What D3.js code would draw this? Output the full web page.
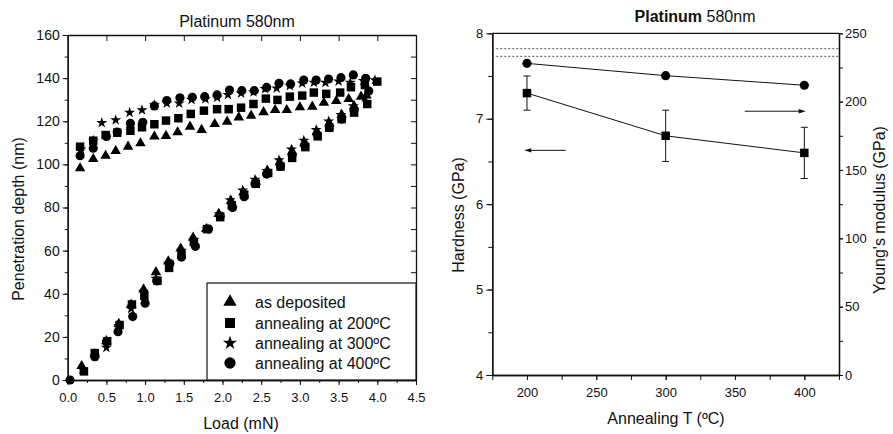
<!DOCTYPE html>
<meta charset="utf-8">
<style>
 body { margin: 0; background: #fff; }
 svg { display: block; background: #fff; }
 text { font-family: "Liberation Sans", Arial, sans-serif; fill: #111; }
 .tick text { font-size: 13px; }
 .domain, .tick line { stroke: #111; }
</style>
<svg width="893" height="434"></svg>
<script src="https://d3js.org/d3.v7.min.js"></script>
<script>

 // ---- left chart: load vs penetration depth ----
 var asDepLoad = [[0.18,6.5],[0.35,12],[0.5,18],[0.66,26],[0.82,35],[0.98,42],[1.14,50],[1.3,55],[1.46,61],[1.62,66],[1.79,70],[1.95,77],[2.11,83],[2.27,87],[2.43,92],[2.58,97],[2.74,101],[2.9,106],[3.06,110],[3.22,115],[3.38,119],[3.54,123],[3.7,127],[3.86,132]];
 var asDepUnload = [[0.16,98.2],[0.33,102.5],[0.49,104],[0.62,106.2],[0.78,108.2],[0.94,109.8],[1.12,112.9],[1.27,113.2],[1.42,114.9],[1.58,117.5],[1.73,116],[1.9,118.7],[2.06,119.8],[2.21,121.8],[2.37,122.6],[2.53,124.2],[2.68,125.2],[2.83,125.2],[3.0,126.5],[3.16,126.8],[3.31,128.6],[3.47,129.4],[3.63,130.3],[3.79,131.4]];

 var ann200Load = [[0.21,4],[0.35,12.5],[0.51,18],[0.67,25.5],[0.83,35],[0.99,39],[1.16,46],[1.31,52],[1.47,58],[1.63,64],[1.8,70],[1.97,75.5],[2.12,81],[2.28,86],[2.43,91],[2.59,96],[2.75,99],[2.9,103],[3.07,108],[3.23,113],[3.38,117],[3.54,121],[3.7,124],[3.87,128]];
 var ann200Unload = [[0.16,108.2],[0.33,111],[0.49,113.6],[0.64,114.7],[0.81,115.6],[0.96,117.2],[1.12,118.6],[1.27,120.3],[1.43,121.4],[1.59,123.4],[1.76,124.9],[1.93,125.6],[2.08,125.6],[2.24,126.3],[2.4,128],[2.56,130.5],[2.71,129.9],[2.87,131.4],[3.03,131.9],[3.18,133.3],[3.34,132.7],[3.52,133.3],[3.66,135.8],[3.84,136.8],[4.0,138.4]];

 var ann300Load = [[0.19,5],[0.35,11],[0.5,15],[0.66,25],[0.82,33],[0.98,41],[1.14,47],[1.3,54],[1.47,60],[1.63,65],[1.8,70],[1.96,77],[2.1,83.5],[2.26,88],[2.42,93],[2.57,97],[2.73,102],[2.89,107],[3.05,111],[3.21,116],[3.37,120],[3.53,123],[3.69,127],[3.84,131]];
 var ann300Unload = [[0.17,107],[0.33,111],[0.44,119.3],[0.62,120.6],[0.8,124],[0.96,125.2],[1.12,127.5],[1.28,128.3],[1.44,128.3],[1.6,130],[1.78,130.3],[1.93,131],[2.07,132.3],[2.24,133],[2.4,133.5],[2.55,135],[2.7,135.3],[2.87,136.5],[3.03,137.6],[3.18,138],[3.33,137.9],[3.5,138.5],[3.65,137.9],[3.82,138.8],[3.97,139.1]];

 var ann400Load = [[0.03,0],[0.35,10.8],[0.5,17.8],[0.65,22.4],[0.84,29.4],[1.0,35.6],[1.15,46],[1.32,54],[1.47,57],[1.65,62],[1.82,70],[1.97,76],[2.13,80],[2.28,85],[2.42,91],[2.57,95.5],[2.75,99],[2.9,104.4],[3.06,109],[3.22,114],[3.38,117],[3.54,121],[3.7,125],[3.89,134]];
 var ann400Unload = [[0.16,104],[0.33,107.5],[0.5,112.9],[0.64,115],[0.81,119],[0.97,119.5],[1.12,127.1],[1.28,129.6],[1.45,130.9],[1.61,131.1],[1.77,131.4],[1.93,132.2],[2.09,134.5],[2.25,134.2],[2.41,134.2],[2.57,135.7],[2.73,137.6],[2.88,137.3],[3.05,139.1],[3.21,139.1],[3.37,139.6],[3.53,140.2],[3.69,141.5],[3.85,139.9]];

 var seriesNames = ["as deposited", "annealing at 200\u00baC", "annealing at 300\u00baC", "annealing at 400\u00baC"];
 var loadTicks = [0, 0.5, 1, 1.5, 2, 2.5, 3, 3.5, 4, 4.5];
 var depthTicks = [0, 20, 40, 60, 80, 100, 120, 140, 160];

 // ---- right chart: hardness and modulus vs annealing T ----
 var temps = [200, 300, 400];
 var hardness = [7.3, 6.8, 6.6];
 var hardnessErr = [0.2, 0.3, 0.3];
 var modulus = [228, 219, 212];
 var refHardness = [7.82, 7.73];
 var tempTicks = [200, 250, 300, 350, 400];
 var hardTicks = [4, 5, 6, 7, 8];
 var modTicks = [0, 50, 100, 150, 200, 250];
 // arrows: [fromT, toT, value on own axis]
 var hardArrow = [228, 198, 6.63];
 var modArrow = [357, 401, 193];

 var svg = d3.select("svg");

 var shapes = [d3.symbolTriangle, d3.symbolSquare, d3.symbolStar, d3.symbolCircle];
 var plotSizes = [48, 72, 38, 66];
 var legendSizes = [78, 100, 62, 100];

 // ===== left =====
 var x1 = d3.scaleLinear().domain([0, 4.5]).range([67.7, 416]);
 var y1 = d3.scaleLinear().domain([0, 160]).range([380, 35]);
 var minorLoad = d3.range(0, 4.51, 0.25);
 var minorDepth = d3.range(0, 161, 10);

 var g1 = svg.append("g");

 g1.append("g").attr("transform", "translate(0,380)")
   .call(d3.axisBottom(x1).tickValues(minorLoad).tickSize(3).tickFormat("").tickSizeOuter(0));
 g1.append("g").attr("transform", "translate(0,380)")
   .call(d3.axisBottom(x1).tickValues(loadTicks).tickSize(5).tickPadding(8).tickFormat(d3.format(".1f")).tickSizeOuter(0));
 g1.append("g").attr("transform", "translate(67.7,0)")
   .call(d3.axisLeft(y1).tickValues(minorDepth).tickSize(3).tickFormat("").tickSizeOuter(0));
 g1.append("g").attr("class", "ylab").attr("transform", "translate(67.7,0)")
   .call(d3.axisLeft(y1).tickValues(depthTicks).tickSize(5).tickPadding(3).tickSizeOuter(0));
 g1.select(".ylab").selectAll("text").style("font-size", "14px");
 g1.append("g").attr("transform", "translate(0,35)")
   .call(d3.axisTop(x1).tickValues(loadTicks).tickSize(-6).tickFormat("").tickSizeOuter(0));
 g1.append("g").attr("transform", "translate(416,0)")
   .call(d3.axisRight(y1).tickValues(minorDepth).tickSize(-5).tickFormat("").tickSizeOuter(0));
 g1.selectAll(".domain").attr("stroke-width", 1.3);

 var groups = [[asDepLoad, asDepUnload], [ann200Load, ann200Unload], [ann300Load, ann300Unload], [ann400Load, ann400Unload]];
 groups.forEach(function(gr, i) {
   var pts = gr[0].concat(gr[1]);
   g1.append("g").selectAll("path")
     .data(pts)
     .enter().append("path")
     .attr("transform", function(d) { return "translate(" + x1(d[0]) + "," + y1(d[1]) + ")"; })
     .attr("d", d3.symbol().type(shapes[i]).size(plotSizes[i]))
     .attr("fill", "#000");
 });

 // legend
 var leg = g1.append("g");
 leg.append("rect").attr("x", 207).attr("y", 283).attr("width", 209).attr("height", 97)
    .attr("fill", "#fff").attr("stroke", "#111").attr("stroke-width", 1.2);
 var legRows = [302, 323, 343, 363];
 seriesNames.forEach(function(name, i) {
   leg.append("path")
      .attr("transform", "translate(230," + legRows[i] + ")")
      .attr("d", d3.symbol().type(shapes[i]).size(legendSizes[i]))
      .attr("fill", "#000");
   leg.append("text").attr("x", 255).attr("y", legRows[i] + 6)
      .attr("font-size", 16).text(name);
 });

 g1.append("text").attr("x", 237).attr("y", 27).attr("text-anchor", "middle")
   .attr("font-size", 16).text("Platinum 580nm");
 g1.append("text").attr("x", 241).attr("y", 429).attr("text-anchor", "middle")
   .attr("font-size", 16).text("Load (mN)");
 g1.append("text").attr("transform", "translate(23.5,219) rotate(-90)").attr("text-anchor", "middle")
   .attr("font-size", 16).text("Penetration depth (nm)");

 // ===== right =====
 var x2 = d3.scaleLinear().domain([175, 425]).range([492.3, 839]);
 var yH = d3.scaleLinear().domain([4, 8]).range([375, 33.3]);
 var yE = d3.scaleLinear().domain([0, 250]).range([375, 33.3]);
 var g2 = svg.append("g");

 g2.append("g").attr("transform", "translate(0,375)")
   .call(d3.axisBottom(x2).tickValues(d3.range(175, 426, 25)).tickSize(5).tickFormat("").tickSizeOuter(0));
 g2.append("g").attr("transform", "translate(0,375)")
   .call(d3.axisBottom(x2).tickValues(tempTicks).tickSize(5).tickPadding(8).tickSizeOuter(0));
 g2.append("g").attr("transform", "translate(492.3,0)")
   .call(d3.axisLeft(yH).tickValues(d3.range(4, 8.01, 0.5)).tickSize(4).tickFormat("").tickSizeOuter(0));
 g2.append("g").attr("transform", "translate(492.3,0)")
   .call(d3.axisLeft(yH).tickValues(hardTicks).tickSize(6).tickPadding(3).tickFormat(d3.format("d")).tickSizeOuter(0));
 g2.append("g").attr("transform", "translate(839,0)")
   .call(d3.axisRight(yE).tickValues(d3.range(0, 251, 25)).tickSize(4).tickFormat("").tickSizeOuter(0));
 g2.append("g").attr("transform", "translate(839,0)")
   .call(d3.axisRight(yE).tickValues(modTicks).tickSize(4).tickPadding(2).tickSizeOuter(0));
 g2.append("line").attr("x1", 492.3).attr("x2", 839).attr("y1", yH(8)).attr("y2", yH(8))
   .attr("stroke", "#111").attr("stroke-width", 1.3);
 g2.selectAll(".domain").attr("stroke-width", 1.3);

 g2.selectAll(".ref").data(refHardness).enter().append("line")
   .attr("x1", 492.3).attr("x2", 839)
   .attr("y1", function(d) { return yH(d); }).attr("y2", function(d) { return yH(d); })
   .attr("stroke", "#555").attr("stroke-width", 1).attr("stroke-dasharray", "2,2");

 var hData = temps.map(function(t, i) { return [t, hardness[i], hardnessErr[i]]; });
 var eData = temps.map(function(t, i) { return [t, modulus[i]]; });

 g2.append("path").datum(hData)
   .attr("d", d3.line().x(function(d) { return x2(d[0]); }).y(function(d) { return yH(d[1]); }))
   .attr("fill", "none").attr("stroke", "#111").attr("stroke-width", 1);
 g2.append("path").datum(eData)
   .attr("d", d3.line().x(function(d) { return x2(d[0]); }).y(function(d) { return yE(d[1]); }))
   .attr("fill", "none").attr("stroke", "#111").attr("stroke-width", 1);

 var eb = g2.append("g").selectAll("g").data(hData).enter().append("g").attr("stroke", "#111").attr("stroke-width", 1);
 eb.append("line").attr("x1", function(d) { return x2(d[0]); }).attr("x2", function(d) { return x2(d[0]); })
   .attr("y1", function(d) { return yH(d[1] - d[2]); }).attr("y2", function(d) { return yH(d[1] + d[2]); });
 eb.append("line").attr("x1", function(d) { return x2(d[0]) - 3.5; }).attr("x2", function(d) { return x2(d[0]) + 3.5; })
   .attr("y1", function(d) { return yH(d[1] + d[2]); }).attr("y2", function(d) { return yH(d[1] + d[2]); });
 eb.append("line").attr("x1", function(d) { return x2(d[0]) - 3.5; }).attr("x2", function(d) { return x2(d[0]) + 3.5; })
   .attr("y1", function(d) { return yH(d[1] - d[2]); }).attr("y2", function(d) { return yH(d[1] - d[2]); });

 g2.append("g").selectAll("path").data(hData).enter().append("path")
   .attr("transform", function(d) { return "translate(" + x2(d[0]) + "," + yH(d[1]) + ")"; })
   .attr("d", d3.symbol().type(d3.symbolSquare).size(72)).attr("fill", "#000");
 g2.append("g").selectAll("path").data(eData).enter().append("path")
   .attr("transform", function(d) { return "translate(" + x2(d[0]) + "," + yE(d[1]) + ")"; })
   .attr("d", d3.symbol().type(d3.symbolCircle).size(66)).attr("fill", "#000");

 // arrows
 function arrow(x0, xEnd, y) {
   var dir = xEnd > x0 ? 1 : -1;
   g2.append("line").attr("x1", x0).attr("x2", xEnd - dir * 4).attr("y1", y).attr("y2", y)
     .attr("stroke", "#111").attr("stroke-width", 1);
   g2.append("path")
     .attr("d", "M" + xEnd + "," + y + "L" + (xEnd - dir * 7) + "," + (y - 2.2) + "L" + (xEnd - dir * 7) + "," + (y + 2.2) + "Z")
     .attr("fill", "#111");
 }
 arrow(x2(hardArrow[0]), x2(hardArrow[1]), yH(hardArrow[2]));
 arrow(x2(modArrow[0]), x2(modArrow[1]), yE(modArrow[2]));

 var title2 = g2.append("text").attr("x", 695).attr("y", 22).attr("text-anchor", "middle").attr("font-size", 16);
 title2.append("tspan").attr("font-weight", "bold").text("Platinum");
 title2.append("tspan").text(" 580nm");
 g2.append("text").attr("x", 666).attr("y", 424).attr("text-anchor", "middle")
   .attr("font-size", 16).text("Annealing T (\u00baC)");
 g2.append("text").attr("transform", "translate(464,215) rotate(-90)").attr("text-anchor", "middle")
   .attr("font-size", 16).text("Hardness (GPa)");
 g2.append("text").attr("transform", "translate(885,210) rotate(-90)").attr("text-anchor", "middle")
   .attr("font-size", 16).text("Young's modulus (GPa)");
</script>
